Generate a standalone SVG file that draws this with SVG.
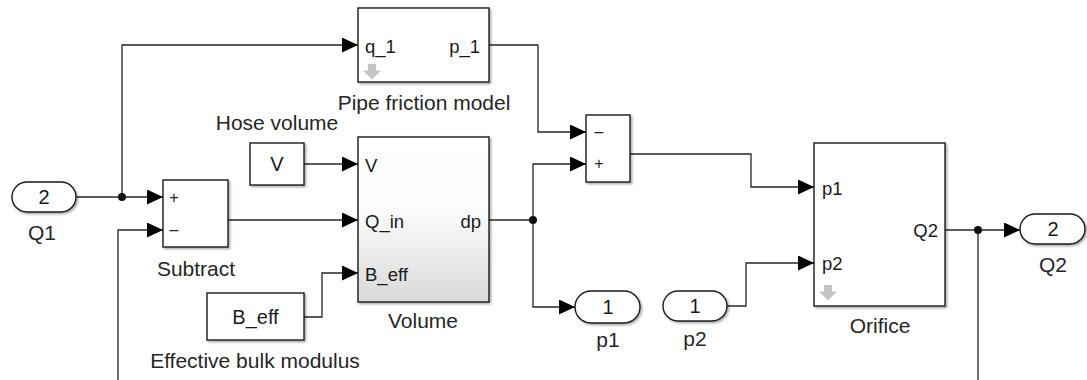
<svg xmlns="http://www.w3.org/2000/svg" width="1087" height="380" viewBox="0 0 1087 380">
<style>
.blk{fill:#fff;stroke:#1a1a1a;stroke-width:1.4;filter:url(#sh)}
.pill{fill:#fff;stroke:#1a1a1a;stroke-width:1.4;filter:url(#sh)}
.ln{fill:none;stroke:#262626;stroke-width:1.3}
.arr{marker-end:url(#ah)}
.lbl{font-family:"Liberation Sans",Arial,sans-serif;font-size:21px;fill:#262626;text-anchor:middle}
.prt{font-family:"Liberation Sans",Arial,sans-serif;font-size:18.5px;fill:#1a1a1a}
.num{font-family:"Liberation Sans",Arial,sans-serif;font-size:20px;fill:#1a1a1a;text-anchor:middle}
.sg{font-family:"Liberation Sans",Arial,sans-serif;font-size:16px;fill:#262626;text-anchor:middle}
.ico{fill:#c4c4c4}
.dot{fill:#111}
</style>
<defs>
<filter id="sh" x="-10%" y="-10%" width="125%" height="125%">
<feDropShadow dx="1.5" dy="1.5" stdDeviation="1" flood-color="#000" flood-opacity="0.35"/>
</filter>
<linearGradient id="gv" x1="0" y1="0" x2="0" y2="1">
<stop offset="0" stop-color="#ffffff"/>
<stop offset="0.45" stop-color="#fbfbfb"/>
<stop offset="1" stop-color="#d9d9d9"/>
</linearGradient>
<marker id="ah" markerUnits="userSpaceOnUse" markerWidth="16" markerHeight="15" refX="16" refY="7.5" orient="auto">
<path d="M0,0 L16,7.5 L0,15 z" fill="#000"/>
</marker>
</defs>

<g id="connectors">
<path class="ln arr" d="M76,197 H163"/>
<path class="ln arr" d="M122,197 V45 H358"/>
<path class="ln arr" d="M228,220 H358"/>
<path class="ln arr" d="M304,164 H358"/>
<path class="ln arr" d="M304,317 H322 V273 H358"/>
<path class="ln arr" d="M118,380 V230 H163"/>
<path class="ln arr" d="M489,45 H538 V132 H586"/>
<path class="ln" d="M489,220 H533"/>
<path class="ln arr" d="M533,220 V164 H586"/>
<path class="ln arr" d="M533,220 V307 H575"/>
<path class="ln arr" d="M630,154 H751 V187 H814"/>
<path class="ln arr" d="M727,306 H746 V263 H814"/>
<path class="ln arr" d="M945,230 H1020"/>
<path class="ln" d="M978,230 V380"/>
<circle class="dot" cx="122" cy="197" r="4"/>
<circle class="dot" cx="533" cy="220" r="4"/>
<circle class="dot" cx="978" cy="230" r="4"/>
</g>

<g id="Q1">
<rect class="pill" x="12" y="182" width="64" height="30" rx="15"/>
<text class="num" x="44" y="204">2</text>
<text class="lbl" x="42" y="240">Q1</text>
</g>

<g id="Subtract">
<rect class="blk" x="163" y="180" width="65" height="67"/>
<text class="sg" x="174" y="203">+</text>
<text class="sg" x="174" y="235">–</text>
<text class="lbl" x="196" y="276">Subtract</text>
</g>

<g id="HoseVolume">
<rect class="blk" x="250" y="143" width="54" height="42"/>
<text class="num" x="277" y="171">V</text>
<text class="lbl" x="277" y="130">Hose volume</text>
</g>

<g id="BulkModulus">
<rect class="blk" x="207" y="293" width="97" height="47"/>
<text class="num" x="255.5" y="324">B_eff</text>
<text class="lbl" x="255" y="368">Effective bulk modulus</text>
</g>

<g id="PipeFriction">
<rect class="blk" x="358" y="8" width="131" height="74"/>
<text class="prt" x="365" y="53">q_1</text>
<text class="prt" x="480" y="53" text-anchor="end">p_1</text>
<path class="ico" d="M368,64 h8 v6.5 h5 l-9,9 l-9,-9 h5 z"/>
<text class="lbl" x="424" y="110">Pipe friction model</text>
</g>

<g id="Volume">
<rect class="blk" x="358" y="137" width="131" height="165" style="fill:url(#gv)"/>
<text class="prt" x="365" y="172">V</text>
<text class="prt" x="365" y="228">Q_in</text>
<text class="prt" x="365" y="281">B_eff</text>
<text class="prt" x="481" y="228" text-anchor="end">dp</text>
<text class="lbl" x="423" y="328">Volume</text>
</g>

<g id="Sum">
<rect class="blk" x="586" y="115" width="44" height="67"/>
<text class="sg" x="599" y="137">–</text>
<text class="sg" x="599" y="169">+</text>
</g>

<g id="p1">
<rect class="pill" x="575" y="291" width="65" height="32" rx="16"/>
<text class="num" x="608" y="314">1</text>
<text class="lbl" x="608" y="347">p1</text>
</g>

<g id="p2">
<rect class="pill" x="663" y="291" width="64" height="30" rx="15"/>
<text class="num" x="695" y="313">1</text>
<text class="lbl" x="695" y="346">p2</text>
</g>

<g id="Orifice">
<rect class="blk" x="814" y="143" width="131" height="163"/>
<text class="prt" x="822" y="195">p1</text>
<text class="prt" x="822" y="270">p2</text>
<text class="prt" x="938" y="237" text-anchor="end">Q2</text>
<path class="ico" d="M824,285 h8 v6.5 h5 l-9,9 l-9,-9 h5 z"/>
<text class="lbl" x="880" y="333">Orifice</text>
</g>

<g id="Q2">
<rect class="pill" x="1020" y="214" width="65" height="30" rx="15"/>
<text class="num" x="1053" y="236">2</text>
<text class="lbl" x="1053" y="272">Q2</text>
</g>
</svg>
